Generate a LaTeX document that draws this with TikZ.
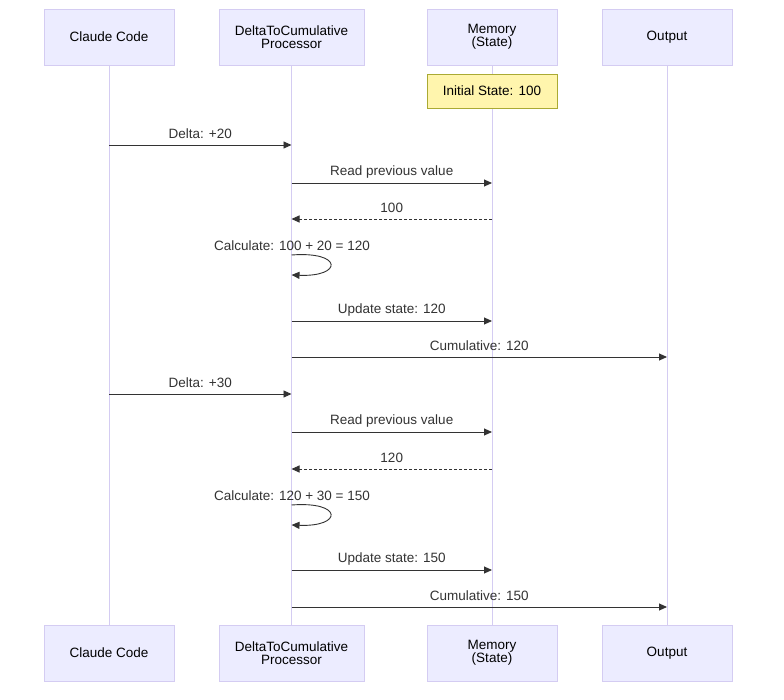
\documentclass[tikz,border=0pt]{standalone}
\usepackage{fontspec}
\setmainfont{Liberation Sans}
\usetikzlibrary{arrows.meta,calc}
\definecolor{actfill}{HTML}{ECECFF}
\definecolor{actline}{HTML}{D4CCF2}
\definecolor{notefill}{HTML}{FFF5AD}
\definecolor{noteline}{HTML}{AAAA33}
\definecolor{msg}{HTML}{333333}
\begin{document}
\begin{tikzpicture}[x=1pt,y=-1pt,
  actor/.style={draw=actline,fill=actfill,minimum width=130pt,minimum height=56pt,align=center,font=\fontsize{13.5}{13}\selectfont,inner sep=0pt},
  life/.style={draw=actline,line width=1pt},
  m/.style={draw=msg,line width=0.9pt,-{Triangle[length=8pt,width=7pt]}},
  dm/.style={m,dashed,dash pattern=on 3pt off 2pt},
  lbl/.style={font=\fontsize{13.5}{14}\selectfont,text=msg,inner sep=0pt}]
\useasboundingbox (0,0) rectangle (784,699);
\fill[white] (0,0) rectangle (784,699);
\foreach \n/\x/\t/\w in {a/109/Claude Code/130, b/291.5/DeltaToCumulative\\Processor/145, c/492/Memory\\(State)/130, d/667/Output/130}{
  \coordinate (\n t) at (\x,65); \coordinate (\n b) at (\x,625);
  \draw[life] (\n t) -- (\n b);
  \node[actor,minimum width=\w pt] (\n1) at (\x,37) {\t};
  \node[actor,minimum width=\w pt] (\n2) at (\x,653) {\t};
}
\node[draw=noteline,fill=notefill,minimum width=130pt,minimum height=34pt,font=\fontsize{13.5}{14}\selectfont] (note) at (492,91) {Initial State: 100};
\foreach \y/\f/\t/\s/\txt in {145/a/b/m/Delta: +20, 183/b/c/m/Read previous value, 219/c/b/dm/100, 321/b/c/m/Update state: 120, 357/b/d/m/Cumulative: 120,
  394/a/b/m/Delta: +30, 432/b/c/m/Read previous value, 469/c/b/dm/120, 570/b/c/m/Update state: 150, 607/b/d/m/Cumulative: 150}{
  \coordinate (p\y) at (\f t |- 0,\y); \coordinate (q\y) at (\t t |- 0,\y);
  \draw[\s] (p\y) -- (q\y);
  \node[lbl] at ($(p\y)!0.5!(q\y)+(0,-11)$) {\txt};
}
\foreach \y/\txt in {255/Calculate: 100 + 20 = 120, 505/Calculate: 120 + 30 = 150}{
  \coordinate (s\y) at (291.5,\y); \coordinate (e\y) at (291.5,\y+20);
  \draw[m] (s\y) .. controls (343,\y-4) and (343,\y+22) .. (e\y);
  \node[lbl] at (292,\y-9) {\txt};
}
\end{tikzpicture}
\end{document}
